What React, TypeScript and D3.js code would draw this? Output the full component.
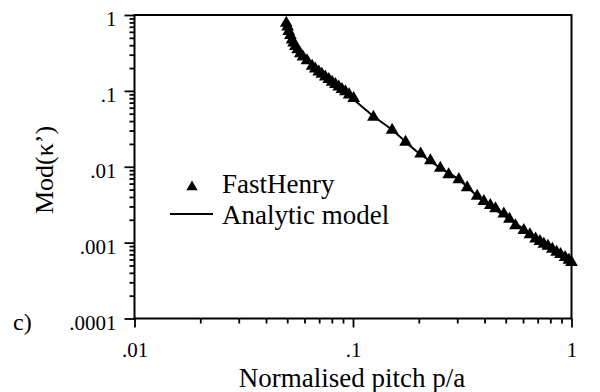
import React, { useEffect, useRef } from "react";
import * as d3 from "d3";

// FastHenry simulation points
const fhPitch = [
  0.0495, 0.0502, 0.0508, 0.0517, 0.0526, 0.0535, 0.0545, 0.0558, 0.0574, 0.059,
  0.0616, 0.065, 0.0672, 0.0697, 0.072, 0.0747, 0.0775, 0.0802, 0.083, 0.086,
  0.089, 0.0923, 0.096, 0.1007, 0.124, 0.151, 0.174, 0.204, 0.226, 0.251,
  0.274, 0.305, 0.333, 0.37, 0.397, 0.425, 0.449, 0.49, 0.52, 0.554,
  0.605, 0.645, 0.685, 0.717, 0.747, 0.78, 0.817, 0.855, 0.891, 0.935,
  0.973, 1.0,
];
const fhMod = [
  0.78, 0.7, 0.61, 0.54, 0.47, 0.43, 0.385, 0.35, 0.31, 0.28,
  0.25, 0.212, 0.195, 0.178, 0.166, 0.153, 0.142, 0.131, 0.122, 0.113,
  0.105, 0.098, 0.089, 0.08, 0.045, 0.0305, 0.0212, 0.0148, 0.0121, 0.0096,
  0.0079, 0.0068, 0.0053, 0.0041, 0.0035, 0.0031, 0.0028, 0.0024, 0.00205, 0.00168,
  0.00145, 0.00128, 0.00112, 0.00104, 0.00096, 0.0009, 0.00082, 0.00075, 0.0007, 0.00064,
  0.00059, 0.00055,
];

// analytic model curve
const modelPitch = [
  0.0495, 0.051, 0.053, 0.055, 0.058, 0.062, 0.067, 0.073, 0.08, 0.09,
  0.1, 0.12, 0.15, 0.2, 0.25, 0.3, 0.4, 0.5, 0.6, 0.7, 0.8, 0.9, 1.0,
];
const modelMod = [
  0.78, 0.62, 0.49, 0.4, 0.31, 0.25, 0.205, 0.166, 0.133, 0.1,
  0.078, 0.05, 0.031, 0.0152, 0.0097, 0.007, 0.0034, 0.0022, 0.00153, 0.00113,
  0.00087, 0.00069, 0.00056,
];

const xTicks = [0.01, 0.1, 1];
const xTickLabels = [".01", ".1", "1"];
const yTicks = [1, 0.1, 0.01, 0.001, 0.0001];
const yTickLabels = ["1", ".1", ".01", ".001", ".0001"];

const font = "'Liberation Serif', 'Times New Roman', serif";

function Chart() {
  const svgRef = useRef(null);

  useEffect(() => {
    const left = 134.5, right = 571.5, top = 15, bottom = 318.5;
    const svg = d3.select(svgRef.current);
    svg.selectAll("*").remove();

    const x = d3.scaleLog().domain([0.01, 1]).range([left, right]);
    const y = d3.scaleLog().domain([0.0001, 1]).range([bottom, top]);

    const minorX = [];
    for (const d of [0.01, 0.1]) for (let k = 2; k <= 9; k++) minorX.push(d * k);
    const minorY = [];
    for (const d of [0.0001, 0.001, 0.01, 0.1]) for (let k = 2; k <= 9; k++) minorY.push(d * k);

    // minor ticks
    const gxm = svg.append("g").attr("transform", `translate(0,${bottom})`)
      .call(d3.axisBottom(x).tickValues(minorX).tickSize(5).tickSizeOuter(0).tickFormat(() => ""));
    const gym = svg.append("g").attr("transform", `translate(${left},0)`)
      .call(d3.axisLeft(y).tickValues(minorY).tickSize(5).tickSizeOuter(0).tickFormat(() => ""));

    // major ticks + labels
    const gx = svg.append("g").attr("transform", `translate(0,${bottom})`)
      .call(d3.axisBottom(x).tickValues(xTicks).tickSize(9).tickSizeOuter(0).tickPadding(15)
        .tickFormat((d, i) => xTickLabels[i]));
    const gy = svg.append("g").attr("transform", `translate(${left},0)`)
      .call(d3.axisLeft(y).tickValues(yTicks).tickSize(10).tickSizeOuter(0).tickPadding(8)
        .tickFormat((d, i) => yTickLabels[i]));

    for (const g of [gxm, gym, gx, gy]) {
      g.attr("font-family", null).attr("font-size", null);
      g.select(".domain").remove();
      g.selectAll("line").attr("stroke", "#000").attr("stroke-width", 1.8);
      g.selectAll("text").attr("fill", "#000").style("font-family", font).style("font-size", "21px");
    }
    gy.selectAll("text").attr("dy", "0.5em");

    // frame
    svg.append("rect")
      .attr("x", left).attr("y", top)
      .attr("width", right - left).attr("height", bottom - top)
      .attr("fill", "none").attr("stroke", "#000").attr("stroke-width", 2);

    // model line
    const line = d3.line().x((d) => x(d[0])).y((d) => y(d[1])).curve(d3.curveMonotoneX);
    svg.append("path")
      .datum(modelPitch.map((p, i) => [p, modelMod[i]]))
      .attr("d", line)
      .attr("fill", "none").attr("stroke", "#000").attr("stroke-width", 2);

    // FastHenry triangles
    const tri = d3.symbol().type(d3.symbolTriangle).size(70);
    svg.append("g").selectAll("path")
      .data(fhPitch.map((p, i) => [p, fhMod[i]]))
      .join("path")
      .attr("d", tri)
      .attr("transform", (d) => `translate(${x(d[0])},${y(d[1])})`)
      .attr("fill", "#000");

    // legend
    svg.append("path").attr("d", d3.symbol().type(d3.symbolTriangle).size(55))
      .attr("transform", "translate(192,187)").attr("fill", "#000");
    svg.append("line").attr("x1", 170).attr("x2", 213).attr("y1", 214).attr("y2", 214)
      .attr("stroke", "#000").attr("stroke-width", 2);
    const text = (t, tx, ty, size) =>
      svg.append("text").attr("x", tx).attr("y", ty).text(t)
        .style("font-family", font).style("font-size", `${size}px`).attr("fill", "#000");
    text("FastHenry", 222, 193, 27);
    text("Analytic model", 222, 224, 27);

    // titles
    text("Normalised pitch p/a", 352, 387, 27).attr("text-anchor", "middle");
    svg.append("text")
      .attr("transform", "translate(53,170) rotate(-90)")
      .attr("text-anchor", "middle")
      .style("font-family", font).style("font-size", "26px").attr("fill", "#000")
      .text("Mod(κ’)");
    text("c)", 13, 330, 24);
  }, []);

  return (
    <svg ref={svgRef} width="600" height="392"
      style={{ position: "absolute", left: 0, top: 0, background: "#fff" }} />
  );
}

export default function App() {
  return <Chart />;
}
